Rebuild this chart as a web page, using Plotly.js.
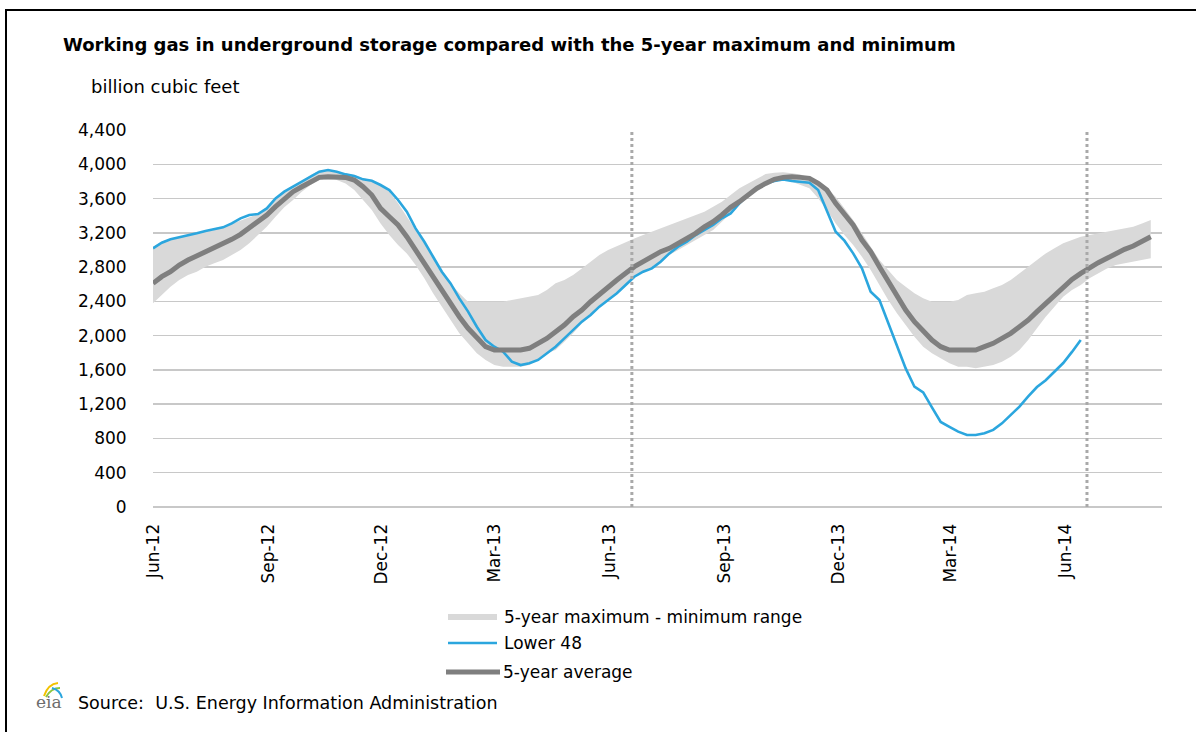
<!DOCTYPE html>
<html>
<head>
<meta charset="utf-8">
<script src="https://cdn.plot.ly/plotly-3.0.1.min.js"></script>
<style>
  html, body { margin: 0; padding: 0; background: #fff; }
  #chart { width: 1196px; height: 732px; }
</style>
</head>
<body>
<div id="chart"></div>
<script>
// ---------------- DATA (weekly, Fridays, first week ending 2012-06-15) ----------------
const firstWeek = '2012-06-15';

const lower48 = [
  3019, 3085, 3124, 3147, 3163, 3194, 3221, 3240, 3264, 3310,
  3369, 3408, 3419, 3485, 3602, 3680, 3738, 3797, 3855, 3913,
  3933, 3913, 3882, 3863, 3824, 3808, 3758, 3699, 3583, 3447,
  3252, 3096, 2921, 2746, 2610, 2435, 2280, 2104, 1949, 1871,
  1813, 1696, 1657, 1677, 1716, 1793, 1871, 1968, 2066, 2163,
  2241, 2338, 2416, 2494, 2591, 2688, 2746, 2785, 2863, 2960,
  3038, 3096, 3174, 3233, 3291, 3369, 3427, 3544, 3641, 3719,
  3777, 3804, 3824, 3804, 3797, 3785, 3699, 3466, 3213, 3108,
  2960, 2785, 2513, 2416, 2151, 1887, 1618, 1404, 1338, 1163,
  992, 934, 879, 840, 840, 860, 900, 976, 1070, 1171,
  1290, 1400, 1480, 1575, 1680, 1810, 1949
];

const avg5 = [
  2610, 2688, 2746, 2824, 2882, 2929, 2980, 3026, 3077, 3124,
  3182, 3252, 3330, 3408, 3505, 3602, 3680, 3738, 3797, 3847,
  3855, 3855, 3847, 3816, 3738, 3641, 3485, 3388, 3291, 3155,
  2999, 2844, 2669, 2513, 2357, 2221, 2085, 1968, 1871, 1832,
  1832, 1832, 1832, 1852, 1910, 1968, 2046, 2124, 2221, 2299,
  2396, 2486, 2571, 2649, 2727, 2805, 2863, 2921, 2980, 3019,
  3077, 3135, 3194, 3271, 3330, 3408, 3497, 3563, 3641, 3719,
  3777, 3824, 3847, 3855, 3847, 3836, 3777, 3699, 3544, 3408,
  3291, 3116, 2980, 2805, 2630, 2455, 2299, 2163, 2046, 1949,
  1871, 1832, 1832, 1832, 1832, 1871, 1910, 1968, 2027, 2104,
  2182, 2280, 2377, 2474, 2571, 2657, 2727, 2793, 2851, 2902,
  2960, 3007, 3046, 3096, 3155
];

const max5 = [
  3038, 3097, 3135, 3155, 3174, 3194, 3213, 3233, 3264, 3303,
  3349, 3388, 3419, 3497, 3602, 3691, 3746, 3805, 3874, 3925,
  3933, 3913, 3894, 3874, 3836, 3816, 3758, 3680, 3544, 3388,
  3233, 3077, 2921, 2766, 2610, 2494, 2396, 2396, 2396, 2396,
  2396, 2416, 2435, 2455, 2474, 2532, 2610, 2649, 2708, 2785,
  2863, 2941, 2999, 3046, 3096, 3135, 3174, 3213, 3252, 3291,
  3330, 3369, 3408, 3447, 3505, 3563, 3641, 3719, 3777, 3836,
  3886, 3902, 3906, 3894, 3882, 3836, 3777, 3719, 3622, 3485,
  3349, 3194, 3038, 2882, 2766, 2649, 2571, 2494, 2435, 2396,
  2396, 2396, 2416, 2474, 2494, 2513, 2552, 2591, 2649, 2727,
  2805, 2882, 2960, 3019, 3077, 3116, 3155, 3174, 3194, 3213,
  3233, 3252, 3271, 3310, 3349
];

const min5 = [
  2377, 2474, 2571, 2649, 2708, 2746, 2805, 2844, 2882, 2941,
  2999, 3077, 3174, 3271, 3388, 3497, 3583, 3680, 3758, 3816,
  3824, 3816, 3777, 3699, 3583, 3466, 3310, 3174, 3058, 2960,
  2824, 2669, 2494, 2338, 2182, 2027, 1910, 1793, 1715, 1657,
  1638, 1638, 1638, 1657, 1715, 1793, 1832, 1929, 2027, 2143,
  2241, 2338, 2416, 2513, 2591, 2688, 2746, 2805, 2863, 2941,
  2999, 3058, 3116, 3174, 3233, 3330, 3427, 3544, 3641, 3719,
  3777, 3808, 3816, 3797, 3758, 3719, 3602, 3466, 3310, 3174,
  3058, 2921, 2766, 2591, 2416, 2260, 2124, 1988, 1871, 1793,
  1735, 1677, 1638, 1638, 1618, 1638, 1657, 1696, 1754, 1832,
  1949, 2085, 2221, 2338, 2455, 2532, 2591, 2669, 2727, 2785,
  2824, 2844, 2863, 2882, 2902
];

const tickDates  = ['2012-06-15','2012-09-15','2012-12-15','2013-03-15','2013-06-15',
                    '2013-09-15','2013-12-15','2014-03-15','2014-06-15'];
const tickLabels = ['Jun-12','Sep-12','Dec-12','Mar-13','Jun-13','Sep-13','Dec-13','Mar-14','Jun-14'];
const yearMarkers = ['2013-07-03', '2014-07-02'];

const seriesNames = ['5-year maximum - minimum range', 'Lower 48', '5-year average'];

// ---------------- weekly dates ----------------
function weekDates(n) {
  const out = [];
  const t0 = Date.parse(firstWeek + 'T00:00:00Z');
  for (let i = 0; i < n; i++) {
    out.push(new Date(t0 + i * 7 * 86400000).toISOString().slice(0, 10));
  }
  return out;
}
const xAll = weekDates(avg5.length);
const xL48 = weekDates(lower48.length);

// ---------------- styling ----------------
const W = 1196, H = 732;
const M = { l: 153, r: 34, t: 130, b: 225 };
const PW = W - M.l - M.r, PH = H - M.t - M.b;
const PX = px => (px - M.l) / PW;
const PY = py => (M.t + PH - py) / PH;

const bandColor = '#d9d9d9';
const blueColor = '#2ba6de';
const grayColor = '#7f7f7f';
const FONT = 'DejaVu Sans, Verdana, sans-serif';

const traces = [
  { x: xAll, y: max5, type: 'scatter', mode: 'lines', line: { width: 0, color: bandColor },
    showlegend: false, hoverinfo: 'skip' },
  { x: xAll, y: min5, type: 'scatter', mode: 'lines', line: { width: 0, color: bandColor },
    fill: 'tonexty', fillcolor: bandColor, name: seriesNames[0], showlegend: false },
  { x: xL48, y: lower48, type: 'scatter', mode: 'lines', line: { width: 2.6, color: blueColor },
    name: seriesNames[1], showlegend: false },
  { x: xAll, y: avg5, type: 'scatter', mode: 'lines', line: { width: 5, color: grayColor },
    name: seriesNames[2], showlegend: false }
];

const shapes = [];
yearMarkers.forEach(d => shapes.push({
  type: 'line', xref: 'x', yref: 'paper', x0: d, x1: d, y0: 0, y1: 1,
  line: { color: '#a9a9a9', width: 3, dash: 'dot' }, layer: 'above'
}));
// legend swatches
shapes.push({ type: 'rect', xref: 'paper', yref: 'paper', x0: PX(448), x1: PX(497), y0: PY(620), y1: PY(614),
  fillcolor: bandColor, line: { width: 0 } });
shapes.push({ type: 'line', xref: 'paper', yref: 'paper', x0: PX(448), x1: PX(497), y0: PY(643), y1: PY(643),
  line: { color: blueColor, width: 2.6 } });
shapes.push({ type: 'line', xref: 'paper', yref: 'paper', x0: PX(446), x1: PX(500), y0: PY(672), y1: PY(672),
  line: { color: grayColor, width: 5 } });
// outer frame (left + top)
shapes.push({ type: 'line', xref: 'paper', yref: 'paper', x0: PX(6), x1: PX(6), y0: PY(9), y1: PY(740),
  line: { color: '#000', width: 2 } });
shapes.push({ type: 'line', xref: 'paper', yref: 'paper', x0: PX(5), x1: PX(1200), y0: PY(10), y1: PY(10),
  line: { color: '#000', width: 2 } });
// eia logo arcs
shapes.push({ type: 'path', xref: 'paper', yref: 'paper',
  path: `M ${PX(44)},${PY(696)} Q ${PX(48)},${PY(684)} ${PX(58)},${PY(683)}`, line: { color: '#f2c200', width: 2 } });
shapes.push({ type: 'path', xref: 'paper', yref: 'paper',
  path: `M ${PX(46)},${PY(697)} Q ${PX(51)},${PY(688)} ${PX(60)},${PY(688)}`, line: { color: '#8cc63f', width: 2 } });
shapes.push({ type: 'path', xref: 'paper', yref: 'paper',
  path: `M ${PX(52)},${PY(688)} Q ${PX(60)},${PY(690)} ${PX(62)},${PY(698)}`, line: { color: '#2ba6de', width: 2 } });

const ann = (px, py, text, opts = {}) => Object.assign({
  xref: 'paper', yref: 'paper', x: PX(px), y: PY(py), text: text, showarrow: false,
  xanchor: 'left', yanchor: 'middle', font: { family: FONT, size: 17, color: '#000' }
}, opts);

const annotations = [
  ann(61, 44, 'Working gas in underground storage compared with the 5-year maximum and minimum',
      { font: { family: FONT, size: 18, color: '#000', weight: 'bold' } }),
  ann(89, 86, 'billion cubic feet', { font: { family: FONT, size: 18, color: '#000' } }),
  ann(502, 617, seriesNames[0]),
  ann(502, 643, seriesNames[1]),
  ann(501, 672, seriesNames[2]),
  ann(76, 703, 'Source:  U.S. Energy Information Administration', { font: { family: FONT, size: 17.5, color: '#000' } }),
  ann(34, 702, 'eia', { font: { family: 'DejaVu Serif, serif', size: 17, color: '#6d6d6d' } })
];

const layout = {
  width: W, height: H,
  margin: M,
  paper_bgcolor: '#fff', plot_bgcolor: '#fff',
  font: { family: FONT, size: 17, color: '#000' },
  showlegend: false,
  xaxis: {
    type: 'date', range: ['2012-06-15', '2014-08-31'],
    tickmode: 'array', tickvals: tickDates, ticktext: tickLabels,
    tickangle: -90, showgrid: false, zeroline: false, showline: false,
    ticks: 'outside', ticklen: 9, tickcolor: 'rgba(0,0,0,0)',
    tickfont: { family: FONT, size: 17, color: '#000' }
  },
  yaxis: {
    range: [0, 4400], dtick: 400, tick0: 0, tickformat: ',',
    showgrid: true, gridcolor: '#c8c8c8', gridwidth: 1.5,
    zeroline: true, zerolinecolor: '#c8c8c8', zerolinewidth: 1.5, showline: false,
    ticks: 'outside', ticklen: 22, tickcolor: 'rgba(0,0,0,0)',
    tickfont: { family: FONT, size: 17, color: '#000' }
  },
  shapes: shapes,
  annotations: annotations
};

Plotly.newPlot('chart', traces, layout, { staticPlot: true, displayModeBar: false });
</script>
</body>
</html>
